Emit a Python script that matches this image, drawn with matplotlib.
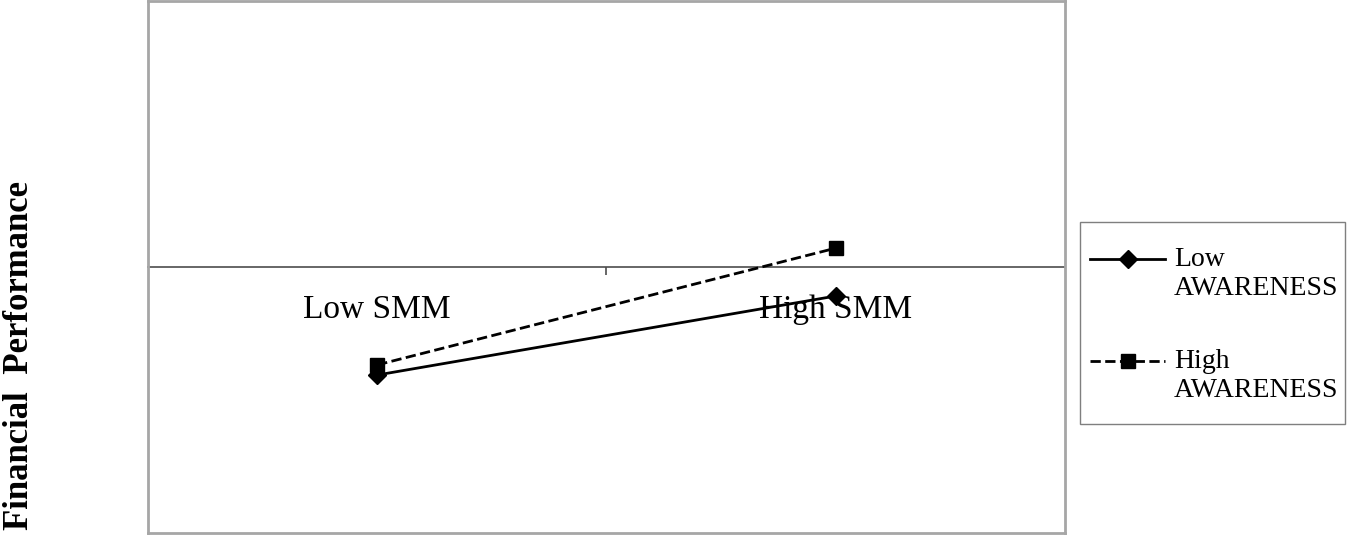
import numpy as np
import matplotlib
matplotlib.use('Agg')
import matplotlib.pyplot as plt
from matplotlib import patches
from matplotlib.legend_handler import HandlerLine2D

plt.rcParams['font.family'] = ['Liberation Serif', 'DejaVu Serif']

# data
categories = ['Low SMM', 'High SMM']
low_awareness = [-0.406, -0.109]
high_awareness = [-0.368, 0.071]
series_labels = ['Low\nAWARENESS', 'High\nAWARENESS']
y_label = 'Financial  Performance'


class FirstLineHandler(HandlerLine2D):
    # put the legend handle level with the first line of a two-line label
    def create_artists(self, legend, orig_handle, xdescent, ydescent, width, height, fontsize, trans):
        artists = super().create_artists(legend, orig_handle, xdescent, ydescent,
                                         width, height, fontsize, trans)
        for a in artists:
            a.set_ydata(np.asarray(a.get_ydata()) + 0.52 * fontsize)
        return artists


fig = plt.figure(figsize=(13.5, 5.44), dpi=100)
ax = fig.add_axes([0.1096, 0.0202, 0.6793, 0.9779])

x = np.arange(len(categories))
l1, = ax.plot(x, low_awareness, '-', color='black', linewidth=2, marker='D',
              markersize=9, label=series_labels[0], zorder=5)
l2, = ax.plot(x, high_awareness, '--', color='black', linewidth=2, marker='s',
              markersize=10.5, label=series_labels[1], zorder=5)

ax.set_xlim(-0.5, 1.5)
ax.set_ylim(-1, 1)
ax.set_xticks([])
ax.set_yticks([])
for sp in ax.spines.values():
    sp.set_color('#a6a6a6')
    sp.set_linewidth(2)

# category axis crossing at y = 0
sec = ax.secondary_xaxis(0, transform=ax.transData)
sec.spines['bottom'].set_color('#4d4d4d')
sec.spines['bottom'].set_linewidth(1.2)
sec.set_xticks([0.5])
sec.set_xticklabels([''])
sec.tick_params(axis='x', which='major', length=6, width=1.2, color='#4d4d4d', direction='out')
sec.set_xticks(x, minor=True)
sec.set_xticklabels(categories, minor=True, fontsize=24)
sec.tick_params(axis='x', which='minor', length=0, pad=19.5)

fig.text(0.0145, 0.346, y_label, rotation=90, fontsize=25, fontweight='bold',
         ha='center', va='center')

# legend contents without frame, box drawn separately (padding differs per side)
leg = fig.legend(handles=[l1, l2], loc='upper left', bbox_to_anchor=(1090 / 1350, 1 - 247 / 544),
                 fontsize=20, frameon=False, handlelength=2.7, handletextpad=0.32,
                 labelspacing=1.74, borderpad=0, borderaxespad=0,
                 handler_map={l1: FirstLineHandler(), l2: FirstLineHandler()})
box = patches.Rectangle((1080 / 1350, 1 - 424 / 544), 265 / 1350, 202 / 544,
                        transform=fig.transFigure, fill=False, edgecolor='#7f7f7f', linewidth=1)
fig.patches.append(box)

fig.savefig('out.png', dpi=100)
